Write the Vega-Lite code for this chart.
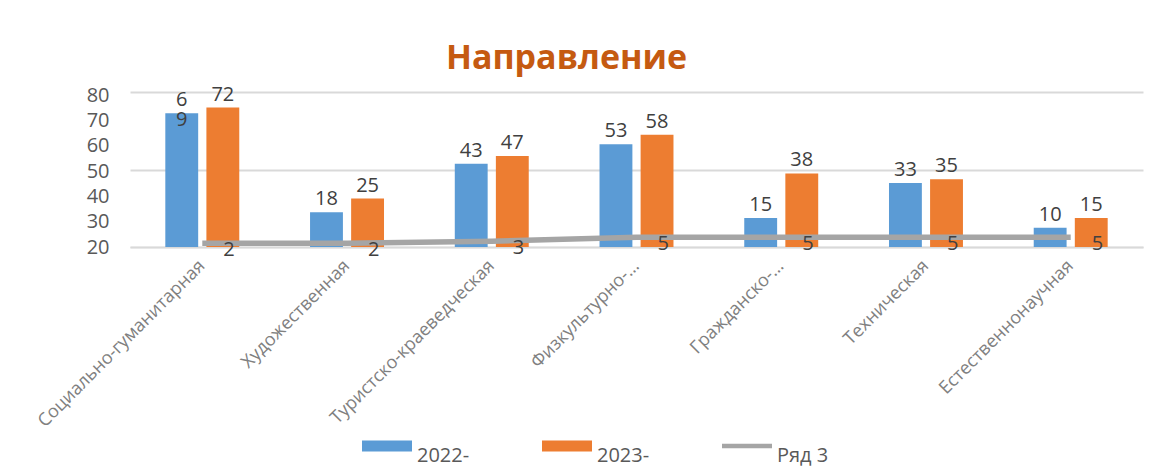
{
  "$schema": "https://vega.github.io/schema/vega-lite/v6.json",
  "width": 1013,
  "height": 155,
  "autosize": {"type": "none"},
  "padding": {"left": 130, "top": 92, "right": 14, "bottom": 221},
  "background": "white",
  "config": {"view": {"stroke": null}, "font": "Open Sans"},
  "title": {
    "text": "Направление",
    "color": "#C55A11",
    "fontSize": 34,
    "fontWeight": "bold",
    "font": "Open Sans",
    "anchor": "middle",
    "dx": -70,
    "dy": 38,
    "baseline": "alphabetic",
    "offset": 20
  },
  "datasets": {
    "bars": [
      {"category": "Социально-гуманитарная", "year": "2022-", "value": 69, "label": "6\n9"},
      {"category": "Социально-гуманитарная", "year": "2023-", "value": 72, "label": "72"},
      {"category": "Художественная", "year": "2022-", "value": 18, "label": "18"},
      {"category": "Художественная", "year": "2023-", "value": 25, "label": "25"},
      {"category": "Туристско-краеведческая", "year": "2022-", "value": 43, "label": "43"},
      {"category": "Туристско-краеведческая", "year": "2023-", "value": 47, "label": "47"},
      {"category": "Физкультурно-…", "year": "2022-", "value": 53, "label": "53"},
      {"category": "Физкультурно-…", "year": "2023-", "value": 58, "label": "58"},
      {"category": "Гражданско-…", "year": "2022-", "value": 15, "label": "15"},
      {"category": "Гражданско-…", "year": "2023-", "value": 38, "label": "38"},
      {"category": "Техническая", "year": "2022-", "value": 33, "label": "33"},
      {"category": "Техническая", "year": "2023-", "value": 35, "label": "35"},
      {"category": "Естественнонаучная", "year": "2022-", "value": 10, "label": "10"},
      {"category": "Естественнонаучная", "year": "2023-", "value": 15, "label": "15"}
    ],
    "line": [
      {"category": "Социально-гуманитарная", "series": "Ряд 3", "value": 2},
      {"category": "Художественная", "series": "Ряд 3", "value": 2},
      {"category": "Туристско-краеведческая", "series": "Ряд 3", "value": 3},
      {"category": "Физкультурно-…", "series": "Ряд 3", "value": 5},
      {"category": "Гражданско-…", "series": "Ряд 3", "value": 5},
      {"category": "Техническая", "series": "Ряд 3", "value": 5},
      {"category": "Естественнонаучная", "series": "Ряд 3", "value": 5}
    ]
  },
  "layer": [
    {
      "layer": [
        {
          "data": {"name": "bars"},
          "mark": {"type": "bar"},
          "encoding": {
            "x": {
              "field": "category",
              "type": "nominal",
              "sort": null,
              "scale": {"paddingInner": 0.489, "paddingOuter": 0.244},
              "axis": {
                "title": null,
                "labelAngle": -45,
                "labelAlign": "right",
                "labelBaseline": "middle",
                "labelPadding": 16,
                "labelFontSize": 18,
                "labelFont": "Open Sans",
                "labelColor": "#808080",
                "ticks": false,
                "domainColor": "#D9D9D9",
                "domainWidth": 1.5,
                "labelLimit": 400
              }
            },
            "xOffset": {"field": "year", "type": "nominal", "scale": {"paddingInner": 0.2, "paddingOuter": 0}},
            "y": {
              "field": "value",
              "type": "quantitative",
              "scale": {"domain": [0, 80]},
              "axis": {
                "title": null,
                "values": [0, 10, 20, 30, 40, 50, 60, 70, 80],
                "labels": false,
                "ticks": false,
                "domain": false,
                "grid": true,
                "gridColor": "#D9D9D9",
                "gridWidth": 2
              }
            },
            "color": {
              "field": "year",
              "type": "nominal",
              "scale": {"domain": ["2022-", "2023-", "Ряд 3"], "range": ["#5B9BD5", "#ED7D31", "#A5A5A5"]},
              "legend": {
                "orient": "none",
                "legendX": 232,
                "legendY": 329,
                "direction": "horizontal",
                "title": null,
                "symbolType": "M-1,-0.22H1V0.22H-1Z",
                "symbolSize": 2500,
                "symbolStrokeWidth": 0,
                "labelFontSize": 20,
                "labelFont": "Open Sans",
                "labelColor": "#595959",
                "labelOffset": 5,
                "labelBaseline": "top",
                "columnPadding": 72,
                "padding": 0,
                "encode": {
                  "symbols": {
                    "update": {
                      "shape": {"signal": "datum.label === 'Ряд 3' ? 'M-1,-0.09H1V0.09H-1Z' : 'M-1,-0.22H1V0.22H-1Z'"},
                      "fill": {"signal": "scale('color', datum.value)"},
                      "opacity": {"value": 1}
                    }
                  }
                }
              }
            }
          }
        },
        {
          "data": {"name": "bars"},
          "mark": {"type": "text", "baseline": "alphabetic", "dy": -7, "fontSize": 20, "font": "Open Sans", "color": "#404040", "lineBreak": "\n", "lineHeight": 20},
          "encoding": {
            "x": {"field": "category", "type": "nominal", "sort": null},
            "xOffset": {"field": "year", "type": "nominal"},
            "y": {"field": "value", "type": "quantitative"},
            "text": {"field": "label", "type": "nominal"}
          }
        },
        {
          "data": {"name": "line"},
          "mark": {"type": "line", "strokeWidth": 5.5, "strokeCap": "butt"},
          "encoding": {
            "x": {"field": "category", "type": "nominal", "sort": null, "bandPosition": 0.5},
            "y": {"field": "value", "type": "quantitative"},
            "color": {"field": "series", "type": "nominal"}
          }
        },
        {
          "data": {"name": "line"},
          "mark": {"type": "text", "align": "left", "baseline": "middle", "dx": 21, "dy": 7, "fontSize": 20, "font": "Open Sans", "color": "#404040"},
          "encoding": {
            "x": {"field": "category", "type": "nominal", "sort": null, "bandPosition": 0.5},
            "y": {"field": "value", "type": "quantitative"},
            "text": {"field": "value", "type": "quantitative"}
          }
        }
      ]
    },
    {
      "data": {"name": "bars"},
      "mark": {"type": "point", "opacity": 0},
      "encoding": {
        "y": {
          "field": "value",
          "type": "quantitative",
          "scale": {"domain": [20, 81.2]},
          "axis": {
            "orient": "left",
            "title": null,
            "values": [20, 30, 40, 50, 60, 70, 80],
            "grid": false,
            "ticks": false,
            "domain": false,
            "labelPadding": 21,
            "labelFontSize": 20,
            "labelFont": "Open Sans",
            "labelColor": "#595959"
          }
        }
      }
    }
  ],
  "resolve": {"scale": {"y": "independent"}, "axis": {"y": "independent"}}
}
